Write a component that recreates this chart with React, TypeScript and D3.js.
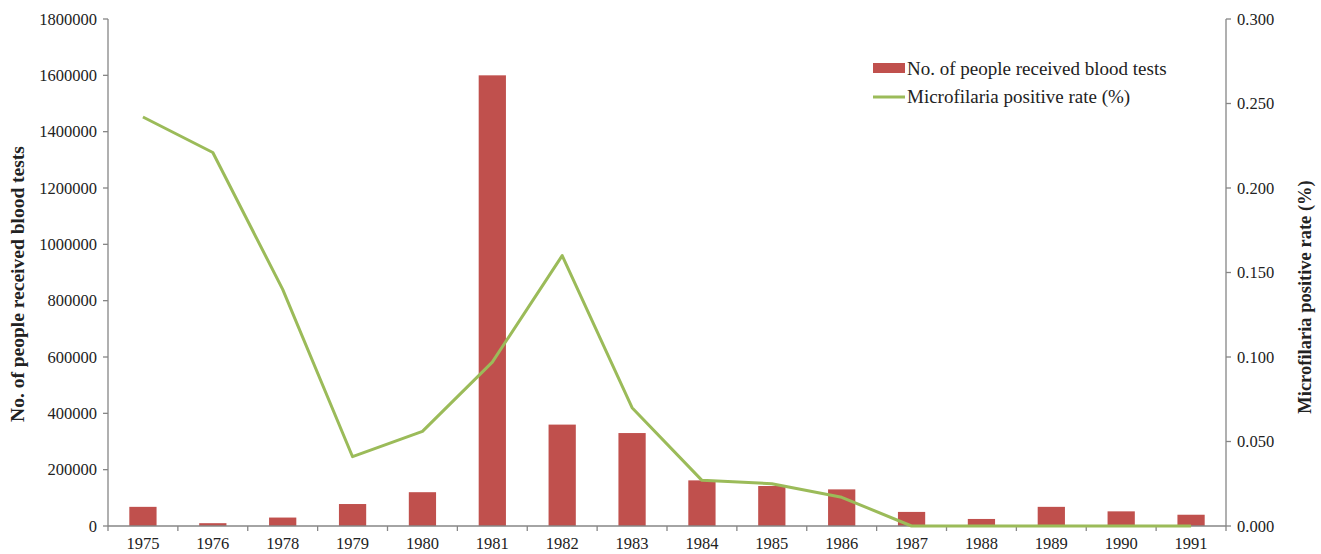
import React from "react";
import * as d3 from "d3";

const years = ["1975","1976","1978","1979","1980","1981","1982","1983","1984","1985","1986","1987","1988","1989","1990","1991"];
const bloodTests = [68000, 10000, 30000, 78000, 120000, 1600000, 360000, 330000, 162000, 142000, 130000, 50000, 25000, 68000, 52000, 40000];
const positiveRate = [0.242, 0.221, 0.140, 0.041, 0.056, 0.097, 0.160, 0.070, 0.027, 0.025, 0.017, 0, 0, 0, 0, 0];
const leftTicks = [0, 200000, 400000, 600000, 800000, 1000000, 1200000, 1400000, 1600000, 1800000];
const rightTicks = [0, 0.05, 0.1, 0.15, 0.2, 0.25, 0.3];
const barLabel = "No. of people received blood tests";
const lineLabel = "Microfilaria positive rate (%)";

const W = 1321, H = 554;
const left = 108, right = 1226, top = 19, bottom = 526;
const axisColor = "#868686";
const barColor = "#C0504D";
const lineColor = "#9BBB59";
const font = "'Liberation Serif', 'Times New Roman', serif";

export default function App() {
  const x = d3.scaleBand<string>().domain(years).range([left, right]).paddingInner(0).paddingOuter(0);
  const yL = d3.scaleLinear().domain([0, 1800000]).range([bottom, top]);
  const yR = d3.scaleLinear().domain([0, 0.3]).range([bottom, top]);
  const bw = x.bandwidth() * 0.39;
  const line = d3.line<number>()
    .x((_, i) => (x(years[i]) as number) + x.bandwidth() / 2)
    .y((d) => yR(d));
  const boundaries = years.map((y) => x(y) as number).concat([right]);

  return (
    <svg width={W} height={H} style={{ position: "absolute", left: 0, top: 0, background: "#fff" }} fontFamily={font}>
      {/* bars */}
      {bloodTests.map((v, i) => {
        const cx = (x(years[i]) as number) + x.bandwidth() / 2;
        return <rect key={i} x={cx - bw / 2} y={yL(v)} width={bw} height={bottom - yL(v)} fill={barColor} />;
      })}
      {/* left axis */}
      <line x1={left} x2={left} y1={top} y2={bottom} stroke={axisColor} strokeWidth={1.3} />
      {leftTicks.map((t) => (
        <g key={t}>
          <line x1={left - 5} x2={left} y1={yL(t)} y2={yL(t)} stroke={axisColor} strokeWidth={1.3} />
          <text x={left - 11} y={yL(t)} dy="0.35em" textAnchor="end" fontSize={16.5} fill="#222">{t}</text>
        </g>
      ))}
      {/* right axis */}
      <line x1={right} x2={right} y1={top} y2={bottom} stroke={axisColor} strokeWidth={1.3} />
      {rightTicks.map((t) => (
        <g key={t}>
          <line x1={right} x2={right + 5} y1={yR(t)} y2={yR(t)} stroke={axisColor} strokeWidth={1.3} />
          <text x={right + 11} y={yR(t)} dy="0.35em" textAnchor="start" fontSize={16.5} fill="#222">{t.toFixed(3)}</text>
        </g>
      ))}
      {/* bottom axis */}
      <line x1={left} x2={right} y1={bottom} y2={bottom} stroke={axisColor} strokeWidth={1.3} />
      {boundaries.map((b, i) => (
        <line key={i} x1={b} x2={b} y1={bottom} y2={bottom + 5} stroke={axisColor} strokeWidth={1.3} />
      ))}
      {years.map((yr) => (
        <text key={yr} x={(x(yr) as number) + x.bandwidth() / 2} y={549} textAnchor="middle" fontSize={16.5} fill="#222">{yr}</text>
      ))}
      {/* line */}
      <path d={line(positiveRate) || ""} fill="none" stroke={lineColor} strokeWidth={3} strokeLinejoin="round" />
      {/* axis titles */}
      <text transform={`translate(24, 284) rotate(-90)`} textAnchor="middle" fontSize={19.5} fontWeight="bold" fill="#222">{barLabel}</text>
      <text transform={`translate(1311, 297) rotate(-90)`} textAnchor="middle" fontSize={18.5} fontWeight="bold" fill="#222">{lineLabel}</text>
      {/* legend */}
      <rect x={873} y={63} width={32} height={10} fill={barColor} />
      <text x={907} y={75} fontSize={19} fill="#222">{barLabel}</text>
      <line x1={873} x2={905} y1={97} y2={97} stroke={lineColor} strokeWidth={3} />
      <text x={907} y={103} fontSize={19} fill="#222">{lineLabel}</text>
    </svg>
  );
}
